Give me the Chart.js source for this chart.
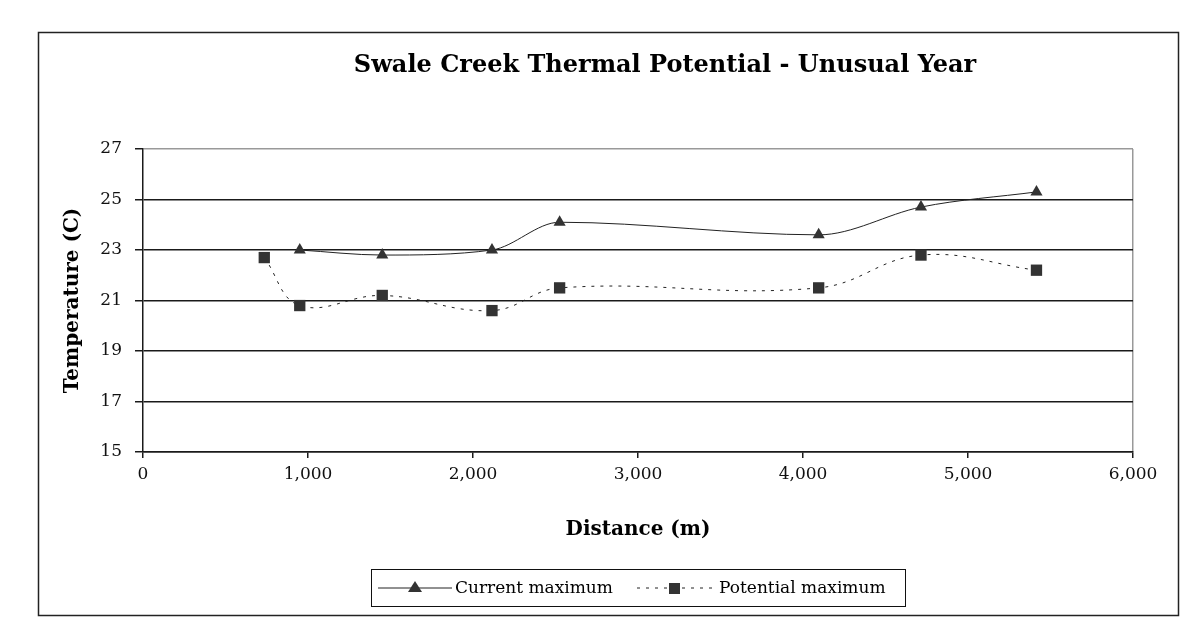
<!DOCTYPE html>
<html>
<head>
<meta charset="utf-8">
<script src="https://cdn.jsdelivr.net/npm/chart.js"></script>
<style>
  html, body { margin: 0; padding: 0; background: #fff; }
  #wrap { width: 1199px; height: 625px; }
</style>
</head>
<body>
<div id="wrap"><canvas id="chart" width="1199" height="625"></canvas></div>
<script>
// distance along the creek (m) and stream temperature (C)
const distCurrent = [950, 1450, 2115, 2525, 4095, 4715, 5415];
const currentMax = [23.0, 22.8, 23.0, 24.1, 23.6, 24.7, 25.3];
const distPotential = [735, 950, 1450, 2115, 2525, 4095, 4715, 5415];
const potentialMax = [22.7, 20.8, 21.2, 20.6, 21.5, 21.5, 22.8, 22.2];
const xTicks = [0, 1000, 2000, 3000, 4000, 5000, 6000];
const yTicks = [15, 17, 19, 21, 23, 25, 27];
const seriesNames = ['Current maximum', 'Potential maximum'];
const chartTitle = 'Swale Creek Thermal Potential - Unusual Year';

const serif = "'DejaVu Serif', serif";
const ink = '#1a1a1a';

const toPoints = (xs, ys) => xs.map((x, i) => ({ x: x, y: ys[i] }));

// frame, title and the boxed legend under the x axis
const decor = {
  id: 'decor',
  beforeDraw(chart) {
    const ctx = chart.ctx;
    ctx.save();
    ctx.fillStyle = '#fff';
    ctx.fillRect(0, 0, chart.width, chart.height);
    ctx.restore();
  },
  afterDraw(chart) {
    const ctx = chart.ctx;
    ctx.save();
    ctx.strokeStyle = '#222';
    ctx.lineWidth = 1.5;
    ctx.strokeRect(38.5, 32.5, 1140, 583);

    ctx.fillStyle = '#000';
    ctx.font = 'bold 24px ' + serif;
    ctx.textAlign = 'center';
    ctx.textBaseline = 'middle';
    ctx.fillText(chartTitle, 665, 66);

    // legend
    ctx.lineWidth = 1;
    ctx.strokeStyle = '#111';
    ctx.strokeRect(371.5, 569.5, 534, 37);
    ctx.font = '17px ' + serif;
    ctx.textAlign = 'left';
    const ly = 588;
    const ds = chart.data.datasets;

    ctx.strokeStyle = ds[0].borderColor;
    ctx.setLineDash([]);
    ctx.beginPath(); ctx.moveTo(378, ly); ctx.lineTo(452, ly); ctx.stroke();
    ctx.fillStyle = ds[0].pointBackgroundColor;
    ctx.beginPath();
    ctx.moveTo(415, ly - 7); ctx.lineTo(422, ly + 4); ctx.lineTo(408, ly + 4);
    ctx.closePath(); ctx.fill();
    ctx.fillStyle = '#000';
    ctx.fillText(seriesNames[0], 455, ly + 1);

    ctx.strokeStyle = ds[1].borderColor;
    ctx.setLineDash(ds[1].borderDash);
    ctx.beginPath(); ctx.moveTo(637, ly); ctx.lineTo(715, ly); ctx.stroke();
    ctx.setLineDash([]);
    ctx.fillStyle = ds[1].pointBackgroundColor;
    ctx.fillRect(669, ly - 5, 11, 11);
    ctx.fillStyle = '#000';
    ctx.fillText(seriesNames[1], 719, ly + 1);
    ctx.restore();
  }
};

new Chart(document.getElementById('chart'), {
  type: 'line',
  data: {
    datasets: [
      {
        label: seriesNames[0],
        data: toPoints(distCurrent, currentMax),
        borderColor: '#222',
        borderWidth: 1,
        pointStyle: 'triangle',
        pointRadius: 7,
        pointBackgroundColor: '#333',
        pointBorderColor: '#333',
        pointBorderWidth: 0,
        cubicInterpolationMode: 'monotone'
      },
      {
        label: seriesNames[1],
        data: toPoints(distPotential, potentialMax),
        borderColor: '#222',
        borderWidth: 1,
        borderDash: [3, 6],
        pointStyle: 'rect',
        pointRadius: 8,
        pointBackgroundColor: '#333',
        pointBorderColor: '#333',
        pointBorderWidth: 0,
        tension: 0.4
      }
    ]
  },
  options: {
    responsive: false,
    devicePixelRatio: 1,
    animation: false,
    layout: { padding: { left: 45, right: 66, top: 149, bottom: 73 } },
    plugins: {
      legend: { display: false },
      title: { display: false },
      tooltip: { enabled: false }
    },
    scales: {
      x: {
        type: 'linear',
        min: 0,
        max: 6000,
        afterBuildTicks: s => { s.ticks = xTicks.map(v => ({ value: v })); },
        afterFit: s => { s.height = 100; },
        border: { color: ink, width: 1.5 },
        grid: {
          drawOnChartArea: true,
          color: c => (c.tick && c.tick.value === 6000 ? '#999' : 'rgba(0,0,0,0)'),
          tickColor: ink,
          tickLength: 6,
          lineWidth: 1.5
        },
        ticks: {
          color: '#111',
          font: { family: serif, size: 17 },
          padding: 6,
          maxRotation: 0,
          callback: v => v.toLocaleString('en-US')
        },
        title: {
          display: true,
          text: 'Distance (m)',
          color: '#000',
          font: { family: serif, size: 20, weight: 'bold' },
          padding: { top: 0, bottom: 10 }
        }
      },
      y: {
        min: 15,
        max: 27,
        afterBuildTicks: s => { s.ticks = yTicks.map(v => ({ value: v })); },
        afterFit: s => { s.width = 98; },
        border: { color: ink, width: 1.5 },
        grid: {
          color: c => (c.tick && c.tick.value === 27 ? '#999' : ink),
          tickColor: ink,
          tickLength: 8,
          lineWidth: 1.5
        },
        ticks: {
          color: '#111',
          font: { family: serif, size: 17 },
          padding: 13
        },
        title: {
          display: true,
          text: 'Temperature (C)',
          color: '#000',
          font: { family: serif, size: 20, weight: 'bold' },
          padding: { top: 16, bottom: 0 }
        }
      }
    }
  },
  plugins: [decor]
});
</script>
</body>
</html>
